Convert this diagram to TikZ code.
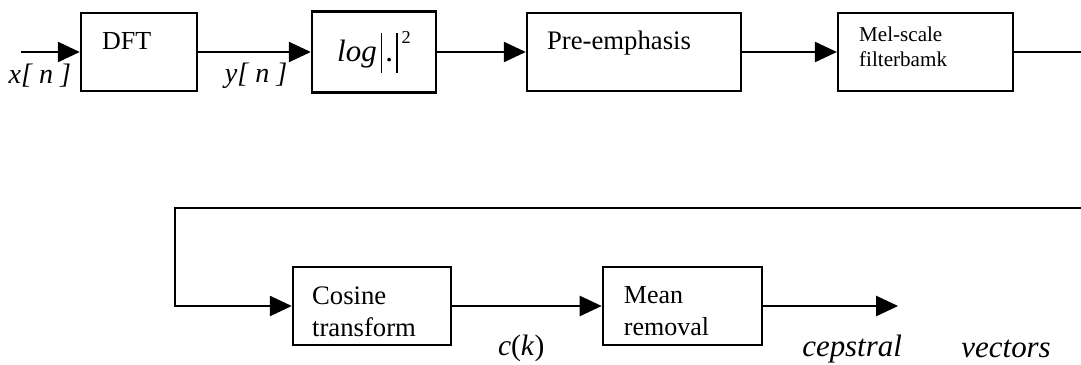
\documentclass[tikz,border=0pt]{standalone}
\usepackage{fontspec}
\setmainfont{Liberation Serif}
\usepackage{tikz}
\usetikzlibrary{shapes,arrows.meta,positioning,calc}
\tikzstyle{block} = [rectangle, draw, line width=1.7pt, minimum height=1.95cm, inner sep=0pt]
\tikzstyle{txt} = [inner sep=0pt, anchor=north west, align=left, font=\fontsize{18.5}{23}\selectfont]
\tikzstyle{lbl} = [inner sep=0pt, font=\fontsize{20}{24}\selectfont\itshape]
\tikzstyle{line} = [draw, line width=1.7pt, -{Triangle[length=0.55cm, width=0.5cm]}]
\newcommand{\vbar}{\rule[-0.3cm]{1pt}{1.0cm}}

\begin{document}
\begin{tikzpicture}[node distance=6cm]
	\useasboundingbox (0,0) rectangle (27.025,-9.125);
	\clip (0,0) rectangle (27.025,-9.125);
	% First row
	\node [block, minimum width=2.9cm] (dft) at (3.475,-1.3) {};
	\node [block, minimum width=3.1cm, minimum height=2.03cm, right of=dft, node distance=5.875cm] (logb) {\fontsize{22}{26}\selectfont\textit{log}\hspace{0.1cm}\vbar\hspace{0.08cm}.\hspace{0.08cm}\vbar\hspace{0.1cm}\raisebox{0.45cm}{\fontsize{13}{13}\selectfont 2}};
	\node [block, minimum width=5.35cm, right of=logb, node distance=6.5cm] (pre) {};
	\node [block, minimum width=4.375cm, right of=pre, node distance=7.29cm] (mel) {};
	\node [txt] (dft-txt) at ([shift={(0.55,-0.5)}]dft.north west) {DFT};
	\node [txt, font=\fontsize{19}{23}\selectfont] (pre-txt) at ([shift={(0.525,-0.475)}]pre.north west) {Pre-emphasis};
	\node [txt, font=\fontsize{15}{17.7}\selectfont] (mel-txt) at ([shift={(0.55,-0.375)}]mel.north west) {Mel-scale\\filterbamk};

	% Second row
	\node [block, minimum width=3.95cm, below of=logb, node distance=6.35cm, xshift=-0.05cm] (cosb) {};
	\node [block, minimum width=3.975cm, right of=cosb, node distance=7.76cm] (mean) {};
	\node [txt, font=\fontsize{19}{22.5}\selectfont] (cos-txt) at ([shift={(0.5,-0.525)}]cosb.north west) {Cosine\\transform};
	\node [txt] (mean-txt) at ([shift={(0.55,-0.5)}]mean.north west) {Mean\\removal};

	% Labels
	\node [lbl] (xn) at ([shift={(-1.0,-0.6)}]dft.west) {x[ n ]};
	\node [lbl] (yn) at ([shift={(1.45,-0.6)}]dft.east) {y[ n ]};
	\node [lbl, font=\fontsize{21}{24}\selectfont] (ck) at ([shift={(1.725,-1.05)}]cosb.east) {\textit{c}(\textit{k})};
	\node [lbl, font=\fontsize{22}{26}\selectfont\itshape] (cep) at ([shift={(2.225,-1.08)}]mean.east) {cepstral};
	\node [lbl, font=\fontsize{22}{26}\selectfont\itshape, right of=cep, node distance=3.85cm] (vec) {vectors};

	% Coordinates
	\coordinate (in) at ([xshift=-1.475cm]dft.west);
	\coordinate (out) at ([xshift=3.375cm]mean.east);
	\coordinate (loop-r) at ([xshift=2cm]mel.east);
	\coordinate (loop-l) at ([shift={(-2.925,2.45)}]cosb.west);

	% Paths
	\path [line] (in) -- (dft);
	\path [line] (dft) -- (logb);
	\path [line] (logb) -- (pre);
	\path [line] (pre) -- (mel);
	\path [line] (mel.east) -- (loop-r) |- (loop-l) |- (cosb.west);
	\path [line] (cosb) -- (mean);
	\path [line] (mean.east) -- (out);
\end{tikzpicture}
\end{document}
